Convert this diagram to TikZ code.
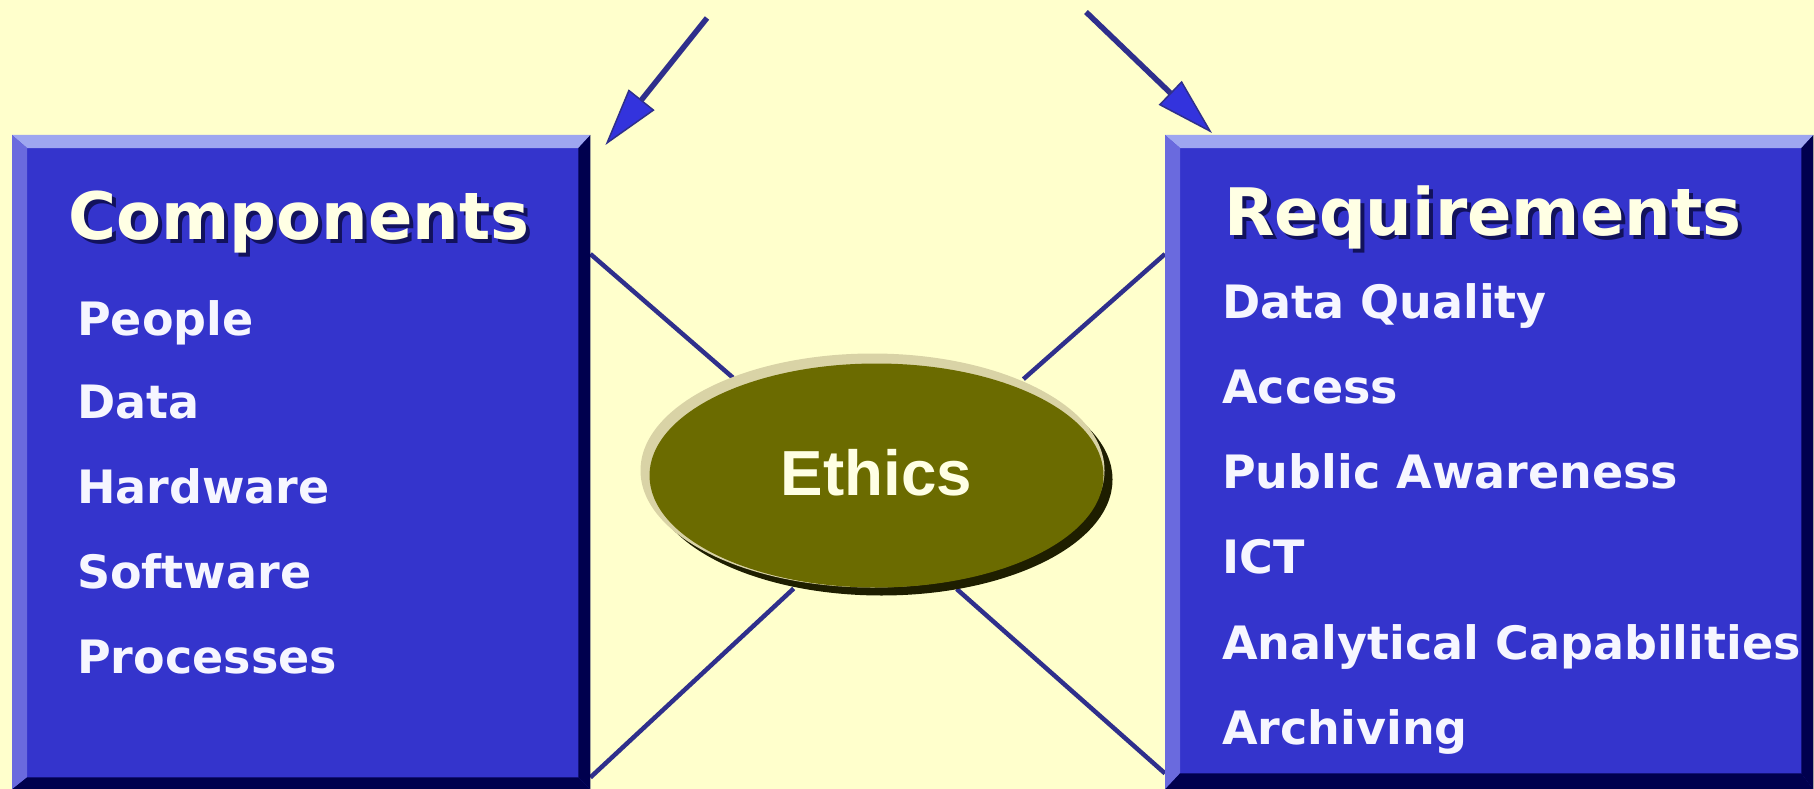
\documentclass[tikz,border=0pt]{standalone}
\usepackage{fontspec}
\newfontfamily\vfont{DejaVu Sans}
\newfontfamily\afont{Liberation Sans}
\usetikzlibrary{arrows.meta,shapes.geometric,calc,backgrounds}
\definecolor{bgcol}{HTML}{FFFFCC}
\definecolor{boxblue}{HTML}{3434CC}
\definecolor{bevtop}{HTML}{9EA6F0}
\definecolor{bevleft}{HTML}{6A6ADE}
\definecolor{bevdark}{HTML}{00004E}
\definecolor{linecol}{HTML}{2F2F8C}
\definecolor{arrowfill}{HTML}{3333DD}
\definecolor{olive}{HTML}{6B6B00}
\definecolor{olivelight}{HTML}{D9D3A6}
\definecolor{olivedark}{HTML}{1E1E00}
\definecolor{headcol}{HTML}{FFFFE4}
\definecolor{itemcol}{HTML}{F6F6FF}
\definecolor{shadowcol}{HTML}{12125C}
\begin{document}
\begin{tikzpicture}[x=1pt,y=-1pt,
  panel/.style={rectangle, fill=boxblue, inner sep=0pt, anchor=north west},
  heading/.style={anchor=base west, inner sep=0pt, text=headcol, font={\vfont\bfseries\fontsize{65.5pt}{70pt}\selectfont}},
  headsh/.style={heading, text=shadowcol},
  item/.style={anchor=base west, inner sep=0pt, text=itemcol, font={\vfont\bfseries\fontsize{46pt}{50pt}\selectfont}},
  ethlabel/.style={inner sep=0pt, text=headcol, font={\afont\bfseries\fontsize{63.7pt}{68pt}\selectfont}},
  link/.style={draw=linecol, line width=4.5pt},
  feed/.style={draw=linecol, line width=5.5pt, -{Triangle[length=58pt,width=33pt,fill=arrowfill,line width=1.5pt]}},
]
\useasboundingbox (0,0) rectangle (1814,789);
\begin{scope}[on background layer]
  \fill[bgcol] (0,0) rectangle (1814,789);
\end{scope}

% panels
\node[panel, minimum width=578pt, minimum height=654pt] (comp) at (12,135) {};
\node[panel, minimum width=648pt, minimum height=654pt] (req) at (1165,135) {};
\foreach \b/\bb in {comp/12,req/16} {
  \fill[bevtop] (\b.north west) -- (\b.north east) -- ($(\b.north east)+(-12,13)$) -- ($(\b.north west)+(15,13)$) -- cycle;
  \fill[bevleft] (\b.north west) -- ($(\b.north west)+(15,13)$) -- ($(\b.south west)+(15,-\bb)$) -- (\b.south west) -- cycle;
  \fill[bevdark] (\b.north east) -- (\b.south east) -- ($(\b.south east)+(-12,-\bb)$) -- ($(\b.north east)+(-12,13)$) -- cycle;
  \fill[bevdark] (\b.south west) -- (\b.south east) -- ($(\b.south east)+(-12,-\bb)$) -- ($(\b.south west)+(15,-\bb)$) -- cycle;
}

% headings (with drop shadow)
\node[headsh] (comphs) at (72,243) {Components};
\node[heading] (comph) at (68,239) {Components};
\node[headsh] (reqhs) at (1228,239) {Requirements};
\node[heading] (reqh) at (1224,235) {Requirements};

% items
\foreach \t/\y [count=\i] in {People/335,Data/418,Hardware/503,Software/588,Processes/673} {
  \node[item] (c\i) at (77,\y) {\t};
}
\foreach \t/\y [count=\i] in {Data Quality/318,Access/403,Public Awareness/488,ICT/573,Analytical Capabilities/659,Archiving/744} {
  \node[item] (r\i) at (1222,\y) {\t};
}

% ethics
\node[ellipse, minimum width=473pt, minimum height=243pt, inner sep=0pt] (ethics) at (876.5,474.5) {};
\begin{scope}[on background layer]
  \draw[link] ($(comp.north east)+(0,119)$) -- (ethics.146.6);
  \draw[link] ($(comp.south east)+(0,-12)$) -- (ethics.234.3);
  \draw[link] ($(req.north west)+(0,119)$) -- (ethics.33.4);
  \draw[link] ($(req.south west)+(0,-16)$) -- (ethics.305.7);
  \fill[olivedark] ($(ethics.center)+(5,5)$) ellipse [x radius=231, y radius=116];
  \fill[olivelight] ($(ethics.center)+(-4,-4)$) ellipse [x radius=232, y radius=117];
  \fill[olive] ($(ethics.center)+(0,1)$) ellipse [x radius=227, y radius=112];
\end{scope}
\node[ethlabel] (ethicstext) at ($(ethics.center)+(0,-2)$) {Ethics};

% incoming arrows
\coordinate (lsrc) at (707,18);
\coordinate (ltip) at ($(comp.north east)+(15,10)$);
\coordinate (rsrc) at (1086,12);
\coordinate (rtip) at ($(req.north west)+(47,-2)$);
\draw[feed] (lsrc) -- (ltip);
\draw[feed] (rsrc) -- (rtip);
\end{tikzpicture}
\end{document}
